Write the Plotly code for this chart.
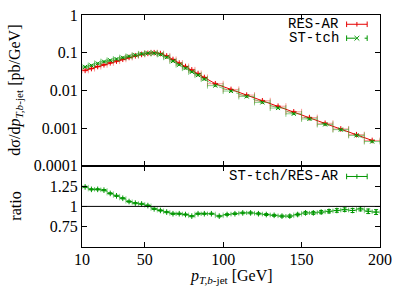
import plotly.graph_objects as go

# ---- data ----
# top panel bins
top_lo = [10, 14, 18, 22, 26, 30, 34, 38, 42, 46, 50, 54, 58, 62, 66, 70, 74, 78, 82, 86,
          90, 100, 110, 120, 130, 140, 150, 160, 170, 180, 190]
top_hi = [14, 18, 22, 26, 30, 34, 38, 42, 46, 50, 54, 58, 62, 66, 70, 74, 78, 82, 86, 90,
          100, 110, 120, 130, 140, 150, 160, 170, 180, 190, 200]
res_ar = [0.034, 0.038, 0.043, 0.048, 0.054, 0.060, 0.067, 0.075, 0.083, 0.090, 0.096, 0.100,
          0.095, 0.082, 0.066, 0.053, 0.043, 0.035, 0.028, 0.022,
          0.015, 0.0106, 0.0075, 0.0053, 0.0038, 0.0027, 0.0019, 0.00134, 0.00095, 0.00067, 0.00047]
st_tch = [0.042, 0.046, 0.052, 0.058, 0.063, 0.068, 0.074, 0.080, 0.086, 0.093, 0.097, 0.097,
          0.090, 0.076, 0.060, 0.048, 0.039, 0.031, 0.0255, 0.020,
          0.0134, 0.0096, 0.0069, 0.0048, 0.0034, 0.0024, 0.00175, 0.00125, 0.00091, 0.00064, 0.00044]

# ratio panel bins
rat_lo = [10, 14, 18, 22, 26, 30, 34, 38, 42, 46, 50, 54, 58, 62, 66, 70, 74, 78, 82, 86,
          90, 95, 100, 105, 110, 115, 120, 125, 130, 135, 140, 145, 150, 155, 160, 165, 170, 175,
          180, 185, 190, 195]
rat_hi = [14, 18, 22, 26, 30, 34, 38, 42, 46, 50, 54, 58, 62, 66, 70, 74, 78, 82, 86, 90,
          95, 100, 105, 110, 115, 120, 125, 130, 135, 140, 145, 150, 155, 160, 165, 170, 175, 180,
          185, 190, 195, 200]
ratio = [1.24, 1.21, 1.21, 1.20, 1.16, 1.13, 1.10, 1.06, 1.04, 1.03, 1.01, 0.97, 0.95, 0.93,
         0.91, 0.91, 0.90, 0.88, 0.91, 0.91,
         0.91, 0.88, 0.90, 0.91, 0.92, 0.92, 0.91, 0.90, 0.89, 0.88, 0.88, 0.90, 0.92, 0.92,
         0.93, 0.94, 0.95, 0.96, 0.95, 0.97, 0.94, 0.93]
ratio_err = [0.008, 0.008, 0.008, 0.008, 0.008, 0.008, 0.008, 0.008, 0.008, 0.008, 0.008, 0.008,
             0.008, 0.008, 0.008, 0.008, 0.008, 0.008, 0.008, 0.008,
             0.008, 0.01, 0.01, 0.01, 0.01, 0.012, 0.012, 0.012, 0.012, 0.012, 0.015, 0.015,
             0.018, 0.018, 0.02, 0.02, 0.022, 0.022, 0.025, 0.025, 0.028, 0.03]

x_ticks = [10, 50, 100, 150, 200]
y_ticks = [1, 0.1, 0.01, 0.001, 0.0001]
y_ticktext = ["1", "0.1", "0.01", "0.001", "0.0001"]
r_ticks = [0.75, 1, 1.25]
r_ticktext = ["0.75", "1", "1.25"]

top_x = [(a + b) / 2 for a, b in zip(top_lo, top_hi)]
top_dx = [(b - a) / 2 for a, b in zip(top_lo, top_hi)]
rat_x = [(a + b) / 2 for a, b in zip(rat_lo, rat_hi)]
rat_dx = [(b - a) / 2 for a, b in zip(rat_lo, rat_hi)]

RED = "rgb(230,0,0)"
RED_L = "rgba(255,70,70,0.55)"
GRN = "rgb(0,150,0)"
GRN_L = "rgba(40,170,40,0.55)"

fig = go.Figure()
fig.add_trace(go.Scatter(
    x=top_x, y=res_ar, mode="lines+markers", xaxis="x", yaxis="y",
    line=dict(color=RED, width=1),
    marker=dict(symbol="cross-thin", size=4, color=RED, line=dict(color=RED, width=1)),
    error_x=dict(type="data", array=top_dx, color=RED_L, thickness=1, width=3),
    error_y=dict(type="data", array=[v * 0.04 for v in res_ar], color=RED_L, thickness=1, width=2),
    showlegend=False))
fig.add_trace(go.Scatter(
    x=top_x, y=st_tch, mode="lines+markers", xaxis="x", yaxis="y",
    line=dict(color=GRN_L, width=1, dash="dash"),
    marker=dict(symbol="x-thin", size=4, color=GRN, line=dict(color=GRN, width=1)),
    error_x=dict(type="data", array=top_dx, color=GRN_L, thickness=1, width=3),
    error_y=dict(type="data", array=[v * 0.04 for v in st_tch], color=GRN_L, thickness=1, width=2),
    showlegend=False))
fig.add_trace(go.Scatter(
    x=rat_x, y=ratio, mode="lines+markers", xaxis="x2", yaxis="y2",
    line=dict(color=GRN_L, width=1),
    marker=dict(symbol="cross-thin", size=4, color=GRN, line=dict(color=GRN, width=1)),
    error_x=dict(type="data", array=rat_dx, color=GRN_L, thickness=1, width=2),
    error_y=dict(type="data", array=ratio_err, color=GRN, thickness=1, width=2),
    showlegend=False))

tickfont = dict(family="Liberation Serif", size=16, color="black")
common_x = dict(range=[10, 200], tickvals=x_ticks, ticks="inside", ticklen=5, tickcolor="black",
                showline=True, linecolor="black", linewidth=1, mirror="ticks", showgrid=False,
                zeroline=False, tickfont=tickfont, ticklabeloverflow="allow")
common_y = dict(ticks="inside", ticklen=5, tickcolor="black", showline=True, linecolor="black",
                linewidth=1, mirror="ticks", showgrid=False, zeroline=False, tickfont=tickfont,
                ticklabeloverflow="allow")
fig.update_layout(
    width=399, height=288,
    margin=dict(l=82, r=13, t=7, b=41),
    paper_bgcolor="white", plot_bgcolor="white",
    xaxis=dict(domain=[0, 1], anchor="y", showticklabels=False, **common_x),
    xaxis2=dict(domain=[0, 1], anchor="y2", matches="x", showticklabels=True,
                ticktext=[str(v) for v in x_ticks], ticklabelstandoff=-2, **common_x),
    yaxis=dict(domain=[0.35, 1], anchor="x", type="log", range=[-4, 0], tickvals=y_ticks,
               ticktext=y_ticktext, **common_y),
    yaxis2=dict(domain=[0, 0.35], anchor="x2", range=[0.5, 1.5], tickvals=r_ticks,
                ticktext=r_ticktext, **common_y),
    showlegend=False,
)

# ratio = 1 reference line
fig.add_shape(type="line", xref="x2 domain", yref="y2", x0=0, x1=1, y0=1, y1=1,
              line=dict(color="black", width=1))

# axis titles
titlefont = dict(family="Liberation Serif", size=16, color="black")
fig.add_annotation(xref="paper", yref="paper", x=-0.224, y=0.675, textangle=-90,
                   text="dσ/d<i>p</i><sub><i>T,b</i>-jet</sub> [pb/GeV]", showarrow=False,
                   font=titlefont, xanchor="center", yanchor="middle", borderpad=0)
fig.add_annotation(xref="paper", yref="paper", x=-0.224, y=0.175, textangle=-90,
                   text="ratio", showarrow=False, font=titlefont,
                   xanchor="center", yanchor="middle", borderpad=0)
fig.add_annotation(xref="paper", yref="paper", x=0.5, y=-0.128,
                   text="<i>p</i><sub><i>T,b</i>-jet</sub> [GeV]", showarrow=False,
                   font=titlefont, xanchor="center", yanchor="middle", borderpad=0)

# legend (key style)
legfont = dict(family="Liberation Mono", size=14, color="black")
def key(label, ypos, color, dash, marker_x):
    fig.add_annotation(xref="paper", yref="paper", x=0.865, y=ypos, text=label,
                       showarrow=False, font=legfont, xanchor="right", yanchor="middle",
                       borderpad=0)
    x0, x1 = 0.888, 0.957
    fig.add_shape(type="line", xref="paper", yref="paper", x0=x0, x1=x1, y0=ypos, y1=ypos,
                  line=dict(color=color, width=1, dash=dash))
    for xx in (x0, x1):
        fig.add_shape(type="line", xref="paper", yref="paper", x0=xx, x1=xx,
                      y0=ypos - 0.012, y1=ypos + 0.012, line=dict(color=color, width=1))
    xm = (x0 + x1) / 2
    dx, dy = 0.008, 0.01
    if marker_x:
        fig.add_shape(type="line", xref="paper", yref="paper", x0=xm - dx, x1=xm + dx,
                      y0=ypos - dy, y1=ypos + dy, line=dict(color=color, width=1))
        fig.add_shape(type="line", xref="paper", yref="paper", x0=xm - dx, x1=xm + dx,
                      y0=ypos + dy, y1=ypos - dy, line=dict(color=color, width=1))
    else:
        fig.add_shape(type="line", xref="paper", yref="paper", x0=xm, x1=xm,
                      y0=ypos - dy, y1=ypos + dy, line=dict(color=color, width=1))

key("RES-AR", 0.960, RED, "solid", False)
key("ST-tch", 0.900, GRN, "dash", True)
key("ST-tch/RES-AR", 0.304, GRN, "solid", False)

fig.write_html("out.html", config={"displayModeBar": False, "staticPlot": True})

# remove the default page margin so the figure sits at the window origin
with open("out.html", "r", encoding="utf-8") as f:
    html = f.read()
html = html.replace("<head>", "<head><style>html,body{margin:0;padding:0;overflow:hidden;}</style>", 1)
with open("out.html", "w", encoding="utf-8") as f:
    f.write(html)
